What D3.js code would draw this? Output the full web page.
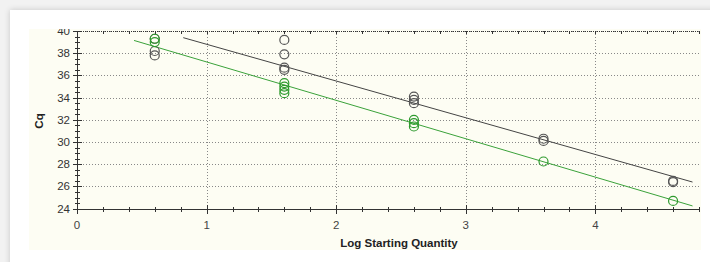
<!DOCTYPE html>
<html>
<head>
<meta charset="utf-8">
<script src="https://cdn.jsdelivr.net/npm/d3@7"></script>
<style>
  html, body { margin: 0; padding: 0; }
  body { width: 710px; height: 262px; background: #f2f2f2; overflow: hidden; position: relative; }
  #card { position: absolute; left: 10px; top: 10px; width: 720px; height: 270px; background: #fff;
          box-shadow: 0 0 6px rgba(0,0,0,0.18); }
  #chart { position: absolute; left: 0; top: 0; }
  text { font-family: "Liberation Sans", Arial, sans-serif; }
</style>
</head>
<body>
<div id="card"></div>
<div id="chart"></div>
<script>
// standards (log starting quantity) and Cq readings, two runs
const grayX  = [0.6, 0.6, 0.6, 1.6, 1.6, 1.6, 1.6, 2.6, 2.6, 2.6, 3.6, 3.6, 4.6, 4.6];
const grayCq = [39.3, 38.2, 37.8, 39.2, 37.9, 36.7, 36.5, 34.1, 33.8, 33.5, 30.3, 30.1, 26.5, 26.4];
const greenX  = [0.6, 0.6, 1.6, 1.6, 1.6, 1.6, 2.6, 2.6, 2.6, 3.6, 4.6];
const greenCq = [39.3, 39.0, 35.3, 35.0, 34.7, 34.4, 32.0, 31.7, 31.4, 28.25, 24.7];

// fitted standard curves: [x start, y start], [x end, y end]
const grayFit  = [[0.82, 39.4], [4.75, 26.4]];
const greenFit = [[0.44, 39.15], [4.75, 24.25]];

const xTicks = [0, 1, 2, 3, 4];
const yTicks = [24, 26, 28, 30, 32, 34, 36, 38, 40];

const width = 710, height = 262;

const svg = d3.select("#chart")
    .append("svg")
    .attr("width", width)
    .attr("height", height);

// cream plot panel, labels are clipped to it
svg.append("clipPath").attr("id", "panel")
    .append("rect")
    .attr("x", 29).attr("y", 29)
    .attr("width", 672).attr("height", 221);

svg.append("rect")
    .attr("x", 29).attr("y", 29)
    .attr("width", 672).attr("height", 221)
    .attr("fill", "#fdfdf3");

const x = d3.scaleLinear().domain([0, 4.8]).range([77, 699]);
const y = d3.scaleLinear().domain([24, 40]).range([208.7, 31]);

// dotted grid
const grid = svg.append("g")
    .attr("stroke", "#888")
    .attr("stroke-width", 1)
    .attr("stroke-dasharray", "1,2");

grid.selectAll("line.h")
    .data(yTicks)
    .enter()
    .append("line")
    .attr("x1", x(0)).attr("x2", x(4.8))
    .attr("y1", d => Math.round(y(d)) + 0.5)
    .attr("y2", d => Math.round(y(d)) + 0.5);

grid.selectAll("line.v")
    .data(xTicks.slice(1))
    .enter()
    .append("line")
    .attr("y1", y(40)).attr("y2", y(24))
    .attr("x1", d => Math.round(x(d)) + 0.5)
    .attr("x2", d => Math.round(x(d)) + 0.5);

// x axis (bottom) with minor ticks
const xMinor = d3.range(0, 4.81, 0.2);
const axisG = svg.append("g").attr("stroke", "#333").attr("stroke-width", 1);

axisG.append("line")
    .attr("x1", x(0)).attr("x2", x(4.8))
    .attr("y1", 209.5).attr("y2", 209.5);

axisG.selectAll("line.xm")
    .data(xMinor)
    .enter()
    .append("line")
    .attr("x1", d => Math.round(x(d)) + 0.5)
    .attr("x2", d => Math.round(x(d)) + 0.5)
    .attr("y1", 207).attr("y2", 212);

axisG.selectAll("line.xM")
    .data(xTicks)
    .enter()
    .append("line")
    .attr("x1", d => Math.round(x(d)) + 0.5)
    .attr("x2", d => Math.round(x(d)) + 0.5)
    .attr("y1", 205).attr("y2", 214);

// top edge ticks
axisG.append("line")
    .attr("x1", x(0)).attr("x2", x(4.8))
    .attr("y1", 31.5).attr("y2", 31.5)
    .attr("stroke-dasharray", "1,1");

axisG.selectAll("line.xt")
    .data(xMinor)
    .enter()
    .append("line")
    .attr("x1", d => Math.round(x(d)) + 0.5)
    .attr("x2", d => Math.round(x(d)) + 0.5)
    .attr("y1", 31).attr("y2", 34);

// y axis with minor ticks
const yMinor = d3.range(24, 40.01, 0.5);

axisG.append("line")
    .attr("x1", 77.5).attr("x2", 77.5)
    .attr("y1", y(40)).attr("y2", 213);

axisG.selectAll("line.ym")
    .data(yMinor)
    .enter()
    .append("line")
    .attr("x1", 75).attr("x2", 80)
    .attr("y1", d => Math.round(y(d)) + 0.5)
    .attr("y2", d => Math.round(y(d)) + 0.5);

axisG.selectAll("line.yM")
    .data(yTicks)
    .enter()
    .append("line")
    .attr("x1", 73).attr("x2", 82)
    .attr("y1", d => Math.round(y(d)) + 0.5)
    .attr("y2", d => Math.round(y(d)) + 0.5);

// tick labels
svg.append("g")
    .attr("clip-path", "url(#panel)")
    .selectAll("text")
    .data(yTicks)
    .enter()
    .append("text")
    .attr("x", 70)
    .attr("y", d => y(d) + 4)
    .attr("text-anchor", "end")
    .attr("font-size", 11.5)
    .attr("fill", "#333")
    .text(d => d);

svg.selectAll("text.xl")
    .data(xTicks)
    .enter()
    .append("text")
    .attr("x", d => x(d))
    .attr("y", 229)
    .attr("text-anchor", "middle")
    .attr("font-size", 11.5)
    .attr("fill", "#444")
    .text(d => d);

// axis titles
svg.append("text")
    .attr("transform", "translate(43, 121) rotate(-90)")
    .attr("text-anchor", "middle")
    .attr("font-size", 11.5)
    .attr("font-weight", "bold")
    .attr("fill", "#222")
    .text("Cq");

svg.append("text")
    .attr("x", 399)
    .attr("y", 247)
    .attr("text-anchor", "middle")
    .attr("font-size", 11.5)
    .attr("font-weight", "bold")
    .attr("fill", "#222")
    .text("Log Starting Quantity");

// fit lines
const line = d3.line().x(d => x(d[0])).y(d => y(d[1]));

svg.append("path")
    .attr("d", line(grayFit))
    .attr("fill", "none")
    .attr("stroke", "#444")
    .attr("stroke-width", 1);

svg.append("path")
    .attr("d", line(greenFit))
    .attr("fill", "none")
    .attr("stroke", "#3aa23a")
    .attr("stroke-width", 1);

// data points
svg.selectAll("circle.g")
    .data(grayCq)
    .enter()
    .append("circle")
    .attr("cx", (d, i) => x(grayX[i]))
    .attr("cy", d => y(d))
    .attr("r", 4.5)
    .attr("fill", "none")
    .attr("stroke", "#555")
    .attr("stroke-width", 1.2);

svg.selectAll("circle.gr")
    .data(greenCq)
    .enter()
    .append("circle")
    .attr("cx", (d, i) => x(greenX[i]))
    .attr("cy", d => y(d))
    .attr("r", 4.5)
    .attr("fill", "none")
    .attr("stroke", "#2e9a2e")
    .attr("stroke-width", 1.2);
</script>
</body>
</html>
